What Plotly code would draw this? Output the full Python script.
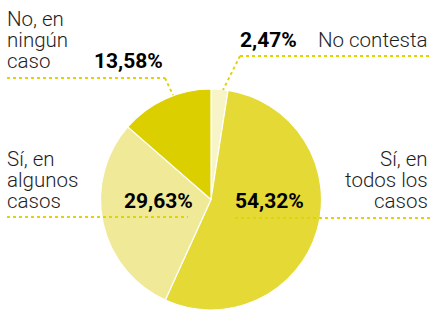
import plotly.graph_objects as go

W, H = 431, 310

labels = ["No contesta", "Sí, en todos los casos", "Sí, en algunos casos", "No, en ningún caso"]
values = [2.47, 54.32, 29.63, 13.58]
pct_text = ["2,47%", "54,32%", "29,63%", "13,58%"]
colors = ["#f7f4c8", "#e4d935", "#f0ea98", "#dccf00"]

def px(x):
    return x / W

def py(y):
    return 1 - y / H

fig = go.Figure()
fig.add_trace(go.Pie(
    labels=labels, values=values, sort=False, direction="clockwise", rotation=0,
    marker=dict(colors=colors, line=dict(color="white", width=1.2)),
    textinfo="none", hoverinfo="label+percent", showlegend=False,
    domain=dict(x=[px(100.5), px(321.5)], y=[0, py(89)]),
))

reg = dict(family="Roboto, Arial, sans-serif", size=20.5, color="#1e1e1e", weight=300)
bold = dict(family="Roboto, Arial, sans-serif", size=21, color="#000000", weight="bold")

ann = []
def line_texts(lines, x, anchor, centers):
    for t, c in zip(lines, centers):
        ann.append(dict(text=t, x=px(x), y=py(c), xref="paper", yref="paper",
                        xanchor=anchor, yanchor="middle", showarrow=False, font=reg))

line_texts(["No, en", "ningún", "caso"], 5, "left", [19, 40, 61])
line_texts(["Sí, en", "algunos", "casos"], 5, "left", [159, 180, 201])
line_texts(["Sí, en", "todos los", "casos"], 430, "right", [159, 180, 201])
line_texts(["No contesta"], 430, "right", [40])

for t, x, c in [(pct_text[3], 128, 61), (pct_text[0], 268.5, 40),
                (pct_text[2], 158, 201), (pct_text[1], 269.5, 201)]:
    ann.append(dict(text=t, x=px(x), y=py(c), xref="paper", yref="paper",
                    xanchor="center", yanchor="middle", showarrow=False, font=bold))

lc = dict(color="#e2d400", width=2, dash="dot")
shapes = []
def seg(x0, y0, x1, y1):
    shapes.append(dict(type="line", xref="paper", yref="paper",
                       x0=px(x0), y0=py(y0), x1=px(x1), y1=py(y1), line=lc))

seg(7, 78, 165, 78); seg(165, 78, 173, 95)
seg(240, 56, 431, 56); seg(240, 56, 223, 90)
seg(7, 217, 188, 217)
seg(235, 218, 431, 218)

fig.update_layout(width=W, height=H, margin=dict(l=0, r=0, t=0, b=0),
                  paper_bgcolor="white", plot_bgcolor="white",
                  annotations=ann, shapes=shapes)
fig.write_html("out.html", config={"displayModeBar": False},
               post_script="document.body.style.margin='0';document.body.style.overflow='hidden';")
